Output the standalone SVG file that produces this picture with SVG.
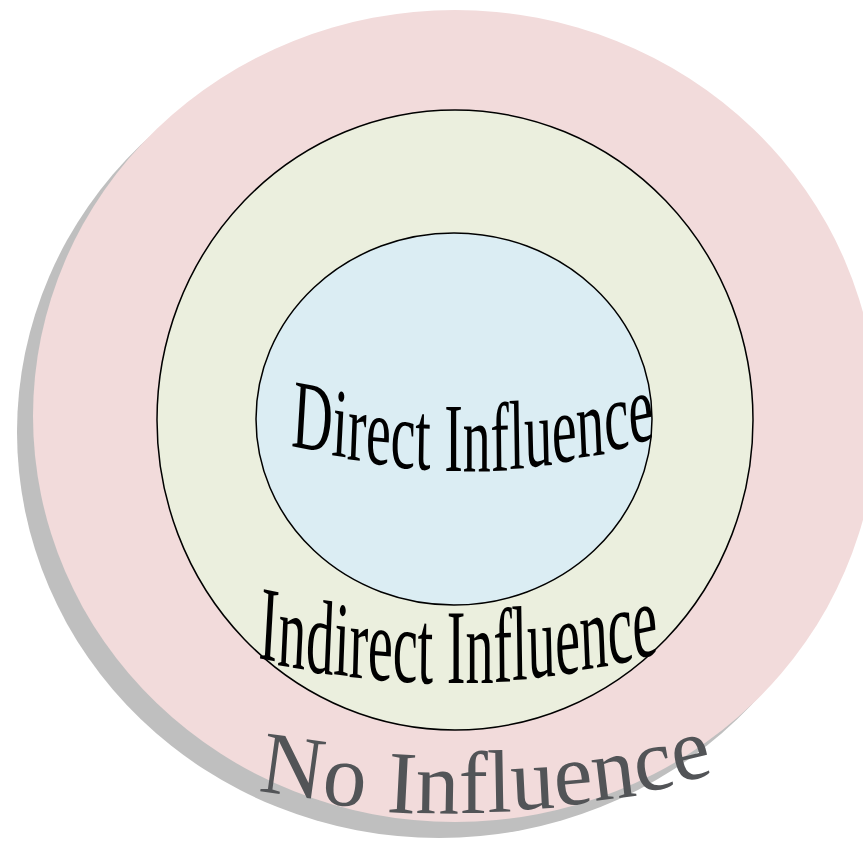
<svg xmlns="http://www.w3.org/2000/svg" width="863" height="841" viewBox="0 0 863 841">
<style>
.ring{stroke:#000;stroke-width:1.5}
.lbl{font-family:'Liberation Serif','Times New Roman',serif}
</style>
<rect width="863" height="841" fill="#fff"/>
<g id="no-influence">
<ellipse cx="439" cy="432" rx="422" ry="406" fill="#bfbfbf"/>
<ellipse cx="455" cy="416" rx="422" ry="406" fill="#f2dbdb"/>
</g>
<g id="indirect-influence">
<ellipse class="ring" cx="455" cy="420" rx="298" ry="310" fill="#ebefde"/>
</g>
<g id="direct-influence">
<ellipse class="ring" cx="454" cy="419" rx="198" ry="186" fill="#dbedf3"/>
</g>
<g id="connectors"/>
<g id="labels">
<text class="lbl" font-size="98" fill="#000" transform="scale(0.57,1)" x="510" y="446 455 459 463 467 469 470 471 471 471 469 467 463 458 451 444" rotate="6 5 4 3 2.5 1.5 1 0 0 -1 -1.5 -2.5 -3.5 -4.5 -5.5 -7">Direct Influence</text>
<text class="lbl" font-size="106" fill="#000" transform="scale(0.53,1)" x="487" y="658 665 671 674 677 679 681 683 683 683 683 682 680 678 675 670 665 659" rotate="6 5 4.5 4 3 2.5 2 1 0.5 0 0 -1 -1.5 -2.5 -3.5 -4.5 -5.5 -6.5">Indirect Influence</text>
<text class="lbl" font-size="89" fill="#525457" transform="scale(0.98,1)" x="263" y="791 803 808 812 813 813 812 810 806 801 793 783" rotate="8 6 4 3 1 0 -1 -3 -5 -7 -10 -13">No Influence</text>
</g>
</svg>
